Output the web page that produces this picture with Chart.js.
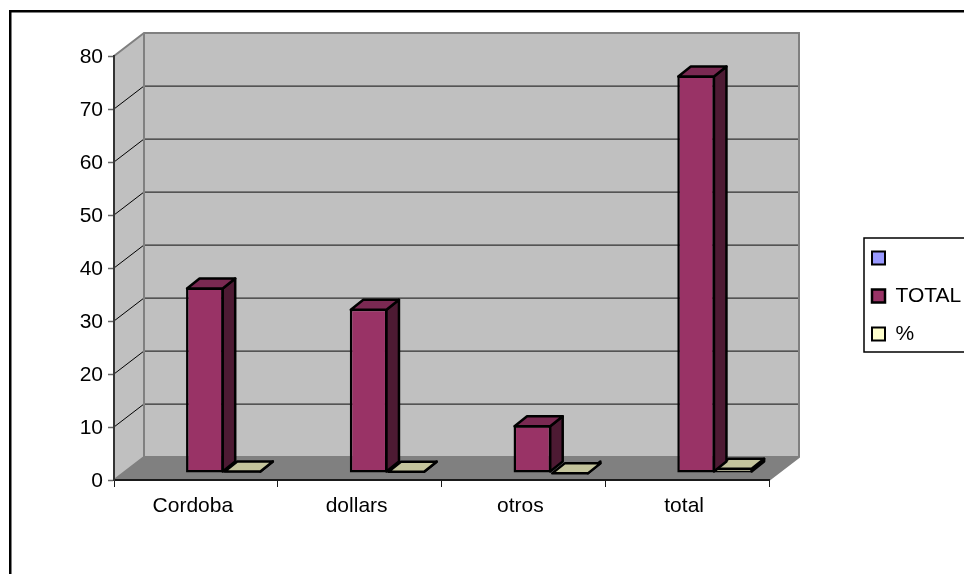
<!DOCTYPE html>
<html>
<head>
<meta charset="utf-8">
<title>Chart</title>
<script src="https://cdn.jsdelivr.net/npm/chart.js@4"></script>
<style>
    html, body { margin: 0; padding: 0; background: #ffffff; }
    #chart { display: block; }
</style>
</head>
<body>
<canvas id="chart" width="964" height="574"></canvas>
<script>
// --- DATA ---
const categories = ['Cordoba', 'dollars', 'otros', 'total'];
const blankValues = [null, null, null, null];
const totalValues = [35, 31, 9, 75];
const percentValues = [0.47, 0.41, 0.12, 1];

// --- STYLE ---
const FONT = { family: '"Liberation Sans", Arial, sans-serif', size: 21 };
const WALL_DEPTH = { x: 30, y: -23 };   // front plane to back wall
const BAR_SHIFT = { x: 9, y: -7 };      // bars stand a bit behind the front plane
const BAR_DEPTH = { x: 12.5, y: -10 };

const polygon = (ctx, points, fill, stroke, lineWidth) => {
    ctx.beginPath();
    points.forEach(([x, y], i) => (i ? ctx.lineTo(x, y) : ctx.moveTo(x, y)));
    ctx.closePath();
    if (fill) {
        ctx.fillStyle = fill;
        ctx.fill();
    }
    if (stroke) {
        ctx.strokeStyle = stroke;
        ctx.lineWidth = lineWidth;
        ctx.lineJoin = 'round';
        ctx.stroke();
    }
};

const wallsPlugin = {
    id: 'walls',
    beforeDraw(chart) {
        const { ctx, scales: { x, y } } = chart;
        const dx = WALL_DEPTH.x;
        const dy = WALL_DEPTH.y;
        const left = x.left, right = x.right, top = y.top, bottom = y.bottom;

        ctx.save();
        ctx.strokeStyle = '#000000';
        ctx.lineWidth = 2.5;
        ctx.beginPath();
        ctx.moveTo(10.25, 574);
        ctx.lineTo(10.25, 11.25);
        ctx.lineTo(964, 11.25);
        ctx.stroke();

        polygon(ctx, [[left, top], [left + dx, top + dy], [right + dx, top + dy], [right + dx, bottom + dy], [left + dx, bottom + dy], [left, bottom]], '#c0c0c0');
        polygon(ctx, [[left, bottom], [left + dx, bottom + dy], [right + dx, bottom + dy], [right, bottom]], '#808080');

        y.ticks.forEach((tick) => {
            if (tick.value === 0 || tick.value === y.max) return;
            const py = y.getPixelForValue(tick.value);
            ctx.strokeStyle = '#000000';
            ctx.lineWidth = 1;
            ctx.beginPath();
            ctx.moveTo(left, py);
            ctx.lineTo(left + dx, py + dy);
            ctx.stroke();
            ctx.strokeStyle = '#303030';
            ctx.lineWidth = 1.25;
            ctx.beginPath();
            ctx.moveTo(left + dx, py + dy);
            ctx.lineTo(right + dx, py + dy);
            ctx.stroke();
        });

        ctx.strokeStyle = '#808080';
        ctx.lineWidth = 2;
        ctx.beginPath();
        ctx.moveTo(left, top);
        ctx.lineTo(left + dx, top + dy);
        ctx.lineTo(right + dx, top + dy);
        ctx.lineTo(right + dx, bottom + dy);
        ctx.lineTo(right, bottom);
        ctx.moveTo(left + dx, top + dy);
        ctx.lineTo(left + dx, bottom + dy);
        ctx.lineTo(left, bottom);
        ctx.moveTo(left + dx, bottom + dy);
        ctx.lineTo(right + dx, bottom + dy);
        ctx.stroke();
        ctx.restore();

        // legend box
        ctx.save();
        ctx.strokeStyle = '#000000';
        ctx.lineWidth = 1.5;
        ctx.beginPath();
        ctx.moveTo(964, 238);
        ctx.lineTo(864, 238);
        ctx.lineTo(864, 352);
        ctx.lineTo(964, 352);
        ctx.stroke();
        ctx.restore();
    },
    beforeDatasetsDraw(chart) {
        chart.ctx.save();
        chart.ctx.translate(BAR_SHIFT.x, BAR_SHIFT.y);
    },
    // side and top faces of each bar
    afterDatasetDraw(chart, args) {
        const { ctx } = chart;
        const faces = chart.data.datasets[args.index].faces;
        if (!faces) return;
        const dx = BAR_DEPTH.x;
        const dy = BAR_DEPTH.y;
        args.meta.data.forEach((bar) => {
            if (bar.skip) return;
            const { x, y, base, width } = bar.getProps(['x', 'y', 'base', 'width'], true);
            const r = x + width / 2 - 1;
            const l = x - width / 2 + 1;
            polygon(ctx, [[r, y + 1], [r + dx, y + 1 + dy], [r + dx, base - 1 + dy], [r, base - 1]], faces.side, '#000000', 2.5);
            polygon(ctx, [[l, y + 1], [l + dx, y + 1 + dy], [r + dx, y + 1 + dy], [r, y + 1]], faces.top, '#000000', 2.5);
        });
    },
    afterDatasetsDraw(chart) {
        chart.ctx.restore();
    },
    // the legend sits away from the plot, half cut by the page edge
    beforeLayout(chart) {
        const legend = chart.legend;
        if (legend && !legend.fitWrapped) {
            const fit = legend.fit;
            legend.fit = function () {
                fit.call(this);
                this.width = 195;
            };
            legend.fitWrapped = true;
        }
    },
    afterLayout(chart) {
        chart.legend.left = 855;
        chart.legend.right = 1050;
        chart.legend.top = 230.5;
        chart.legend.bottom = 500;
    }
};

// --- CHART ---
const initChart = () => {
    new Chart(document.querySelector('#chart'), {
        type: 'bar',
        data: {
            labels: categories,
            datasets: [
                { label: '', data: blankValues, backgroundColor: '#9999ff', borderColor: '#000000', borderWidth: 2, borderSkipped: false },
                { label: 'TOTAL', data: totalValues, backgroundColor: '#993366', borderColor: '#000000', borderWidth: 2.5, borderSkipped: false, faces: { side: '#4d1a33', top: '#7a2952' } },
                { label: '%', data: percentValues, backgroundColor: '#ffffcc', borderColor: '#000000', borderWidth: 2, borderSkipped: false, faces: { side: '#808066', top: '#c4c49c' } }
            ]
        },
        plugins: [wallsPlugin],
        options: {
            responsive: false,
            animation: false,
            events: [],
            layout: { padding: { left: 0, top: 56, right: 0, bottom: 0 } },
            datasets: { bar: { barPercentage: 1, categoryPercentage: 0.69 } },
            scales: {
                x: {
                    afterFit: (scale) => { scale.height = 94; },
                    border: { display: true, color: '#1a1a1a', width: 2 },
                    grid: { display: true, drawOnChartArea: false, drawTicks: true, tickLength: 7, tickColor: '#1a1a1a', tickWidth: 1 },
                    ticks: { color: '#000000', font: FONT, padding: 7, maxRotation: 0, labelOffset: -3 }
                },
                y: {
                    min: 0,
                    max: 80,
                    afterFit: (scale) => { scale.width = 114; },
                    border: { display: true, color: '#333333', width: 2 },
                    grid: { display: true, drawOnChartArea: false, drawTicks: true, tickLength: 6, tickColor: '#666666', tickWidth: 1.5 },
                    ticks: { stepSize: 10, color: '#000000', font: FONT, padding: 5, labelOffset: 1 }
                }
            },
            plugins: {
                title: { display: false },
                tooltip: { enabled: false },
                legend: {
                    position: 'right',
                    align: 'start',
                    labels: { boxWidth: 13, boxHeight: 13, padding: 17, color: '#000000', font: FONT }
                }
            }
        }
    });
};

document.addEventListener('DOMContentLoaded', initChart);
</script>
</body>
</html>
